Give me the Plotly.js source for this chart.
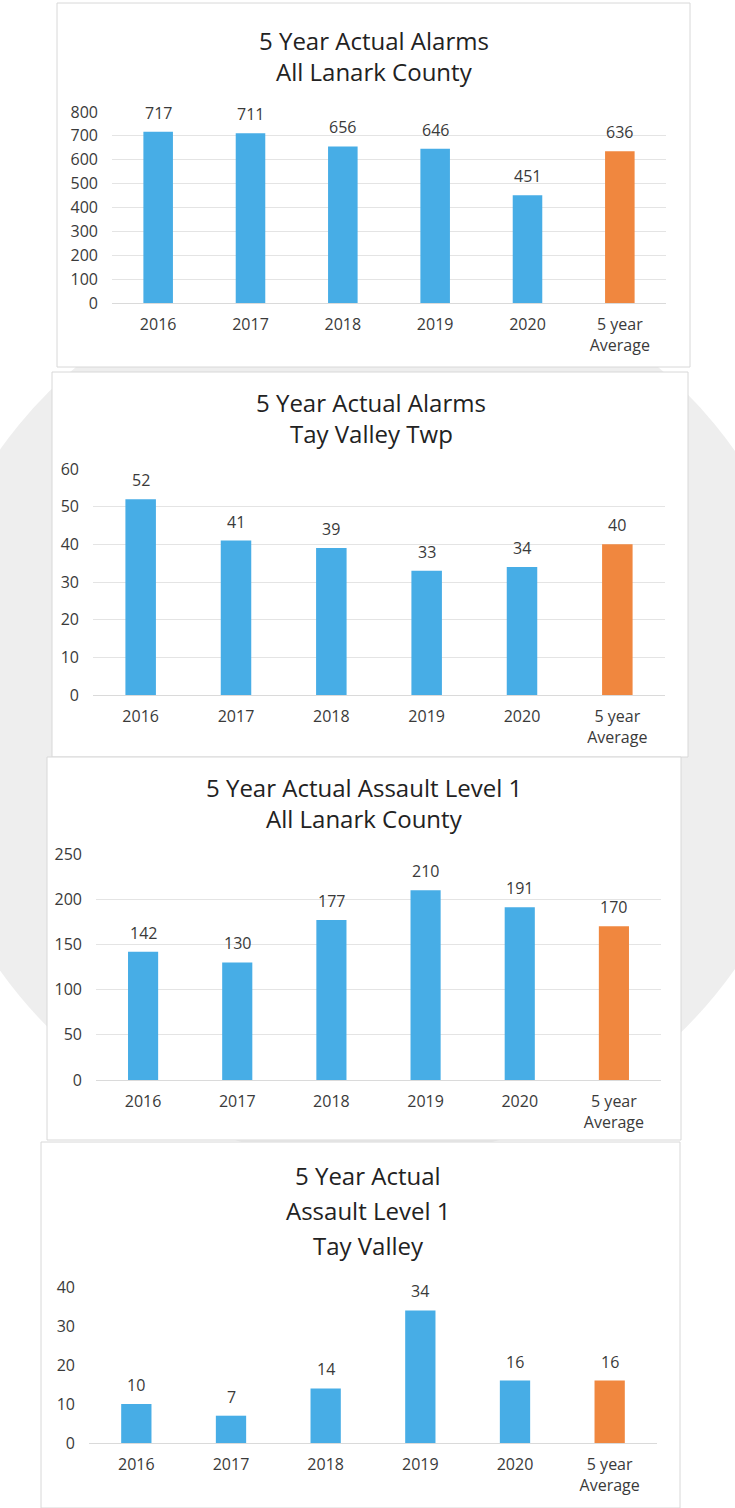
<!DOCTYPE html>
<html>
<head>
<meta charset="utf-8">
<script src="https://cdn.plot.ly/plotly-3.0.1.min.js"></script>
<style>html,body{margin:0;padding:0;background:#fff;}#chart{width:735px;height:1508px;}</style>
</head>
<body>
<div id="chart"></div>
<script>
// ---- data ----
const categories = ['2016', '2017', '2018', '2019', '2020', '5 year<br>Average'];
const alarmsLanark = [717, 711, 656, 646, 451, 636];
const alarmsTay = [52, 41, 39, 33, 34, 40];
const assaultLanark = [142, 130, 177, 210, 191, 170];
const assaultTay = [10, 7, 14, 34, 16, 16];
const titles1 = ['5 Year Actual Alarms', 'All Lanark County'];
const titles2 = ['5 Year Actual Alarms', 'Tay Valley Twp'];
const titles3 = ['5 Year Actual Assault Level 1', 'All Lanark County'];
const titles4 = ['5 Year Actual', 'Assault Level 1', 'Tay Valley'];

// ---- styling / layout ----
const W = 735, H = 1508;
const BLUE = '#47ade6', ORANGE = '#f0873f';
const barColors = categories.map((c, i) => i === categories.length - 1 ? ORANGE : BLUE);
const FONT = 'Open Sans, Liberation Sans, sans-serif';
const TXT = '#3a3a3a';
const px = v => v / W;
const py = v => 1 - v / H;

const panels = [
  {vals: alarmsLanark, titles: titles1, range: [0, 800], dtick: 100,
   x: [112, 666], y: [112, 303], titleX: 374, titleY: [40, 72], box: [57, 3, 690, 367], grid: true},
  {vals: alarmsTay, titles: titles2, range: [0, 60], dtick: 10,
   x: [93, 665], y: [469, 695], titleX: 371, titleY: [403, 434], box: [52, 372, 688, 757], grid: true},
  {vals: assaultLanark, titles: titles3, range: [0, 250], dtick: 50,
   x: [96, 661], y: [854, 1080], titleX: 364, titleY: [787, 818], box: [47, 757, 681, 1140], grid: true},
  {vals: assaultTay, titles: titles4, range: [0, 40], dtick: 10,
   x: [89, 657], y: [1287, 1443], titleX: 368, titleY: [1175, 1210, 1245], box: [41, 1142, 680, 1508], grid: false}
];

const data = [];
const annotations = [];
const shapes = [
  // faint scanned watermark emblem behind the panels
  {type: 'circle', xref: 'paper', yref: 'paper', layer: 'below',
   x0: px(367 - 450), x1: px(367 + 450), y0: py(710 + 450), y1: py(710 - 450),
   fillcolor: '#eeeeee', line: {width: 0}}
];
const layout = {
  width: W, height: H,
  margin: {l: 0, r: 0, t: 0, b: 0},
  paper_bgcolor: '#ffffff',
  plot_bgcolor: 'rgba(0,0,0,0)',
  showlegend: false,
  font: {family: FONT, color: TXT, size: 15},
  bargap: 0.68
};

panels.forEach((p, i) => {
  const n = i === 0 ? '' : String(i + 1);
  data.push({
    type: 'bar', x: categories, y: p.vals,
    xaxis: 'x' + n, yaxis: 'y' + n,
    marker: {color: barColors, line: {width: 0}},
    hoverinfo: 'x+y'
  });
  layout['xaxis' + n] = {
    domain: [px(p.x[0]), px(p.x[1])], anchor: 'y' + n,
    type: 'category', range: [-0.5, categories.length - 0.5], autorange: false,
    showgrid: false, showline: false, ticks: '',
    tickfont: {family: FONT, size: 16, color: TXT}, ticklabelstandoff: 10,
    fixedrange: true
  };
  layout['yaxis' + n] = {
    domain: [py(p.y[1]), py(p.y[0])], anchor: 'x' + n,
    range: p.range, autorange: false, dtick: p.dtick, tick0: 0,
    showgrid: p.grid, gridcolor: '#e4e4e4', gridwidth: 1,
    zeroline: true, zerolinecolor: '#dadada', zerolinewidth: 1,
    showline: false, ticks: '',
    tickfont: {family: FONT, size: 16, color: TXT}, ticklabelstandoff: 13,
    fixedrange: true
  };
  // data labels (x given as category index)
  p.vals.forEach((v, k) => {
    annotations.push({
      xref: 'x' + n, yref: 'y' + n, x: k, y: v,
      text: String(v), showarrow: false, yanchor: 'bottom', yshift: 6,
      font: {family: FONT, size: 16, color: TXT}
    });
  });
  // titles
  p.titles.forEach((t, k) => {
    annotations.push({
      xref: 'paper', yref: 'paper', x: px(p.titleX), y: py(p.titleY[k]),
      xanchor: 'center', yanchor: 'middle', text: t, showarrow: false,
      font: {family: FONT, size: 24, color: '#222'}
    });
  });
  // panel box
  shapes.push({
    type: 'rect', xref: 'paper', yref: 'paper', layer: 'below',
    x0: px(p.box[0]), x1: px(p.box[2]), y0: py(p.box[3]), y1: py(p.box[1]),
    fillcolor: '#ffffff', line: {color: '#d8d8d8', width: 1}
  });
});

layout.annotations = annotations;
layout.shapes = shapes;

Plotly.newPlot('chart', data, layout, {displayModeBar: false, staticPlot: true});
</script>
</body>
</html>
